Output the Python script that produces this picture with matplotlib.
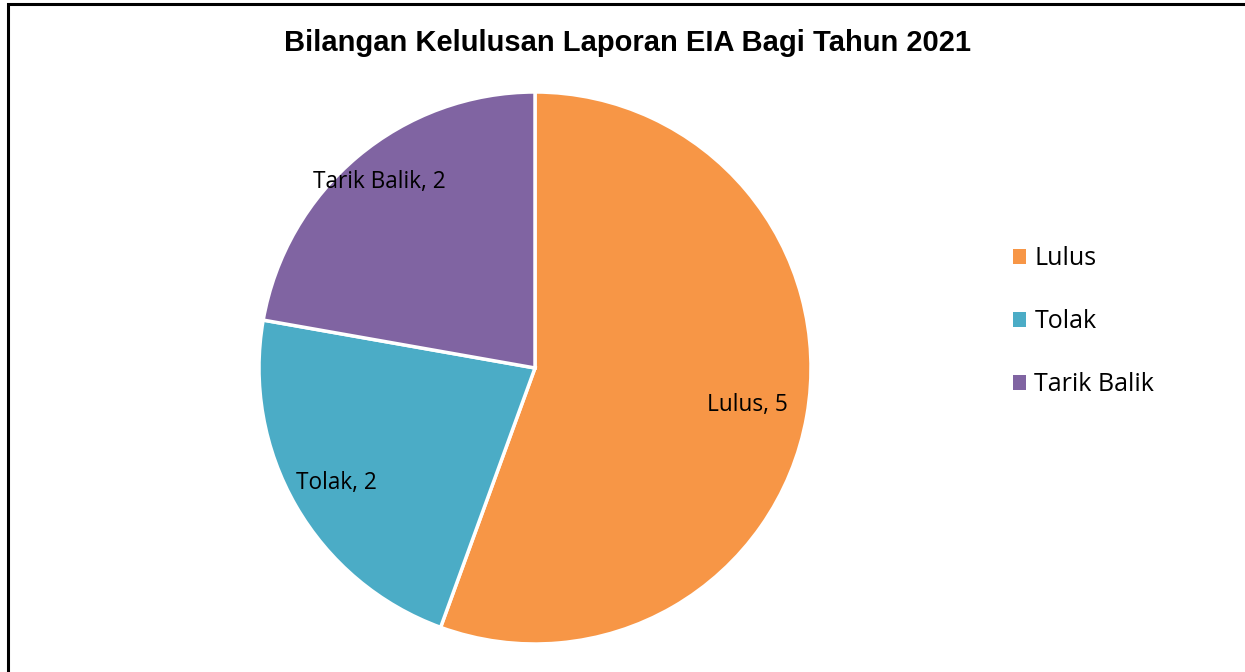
import matplotlib.pyplot as plt
import matplotlib.patches as mpatches
import numpy as np

# data
categories = ['Lulus', 'Tolak', 'Tarik Balik']
values = [5, 2, 2]
colors = ['#F79646', '#4BACC6', '#8064A2']
title = 'Bilangan Kelulusan Laporan EIA Bagi Tahun 2021'

W, H = 1245, 672
fig = plt.figure(figsize=(W / 100, H / 100), dpi=100)

# outer chart border (right/bottom run off the image)
fig.patches.append(mpatches.Rectangle((8 / W, -0.1), 1.2, (H - 3.5) / H + 0.1,
                                      transform=fig.transFigure, fill=False,
                                      edgecolor='black', linewidth=2.2))

# pie area: centre (535, 368), radius 276 px
cx, cy, r = 535, 368, 276
ax = fig.add_axes([(cx - r) / W, (H - cy - r) / H, 2 * r / W, 2 * r / H])
wedges, _ = ax.pie(values, colors=colors, startangle=90, counterclock=False,
                   wedgeprops=dict(edgecolor='white', linewidth=2.5))
ax.set_xlim(-1, 1)
ax.set_ylim(-1, 1)
ax.set_aspect('equal')
ax.axis('off')

# data labels (Excel best fit style)
label_dist = [0.78, 0.83, 0.88]
for w, cat, v, d in zip(wedges, categories, values, label_dist):
    ang = np.deg2rad((w.theta1 + w.theta2) / 2)
    ax.text(d * np.cos(ang), d * np.sin(ang), '%s, %d' % (cat, v),
            ha='center', va='center', fontsize=16.3, family='Open Sans')

fig.text(627 / W, 1 - 43 / H, title, ha='center', va='center',
         fontsize=21, fontweight='bold', family='Liberation Sans')

handles = [mpatches.Patch(facecolor=c, edgecolor='none') for c in colors]
fig.legend(handles, categories, loc='upper left', bbox_to_anchor=(990 / W, 1 - 224 / H),
           frameon=False, prop={'family': 'Open Sans', 'size': 18},
           handlelength=0.52, handleheight=0.52, handletextpad=0.36, labelspacing=1.52)

fig.savefig('out.png', dpi=100, facecolor='white')
